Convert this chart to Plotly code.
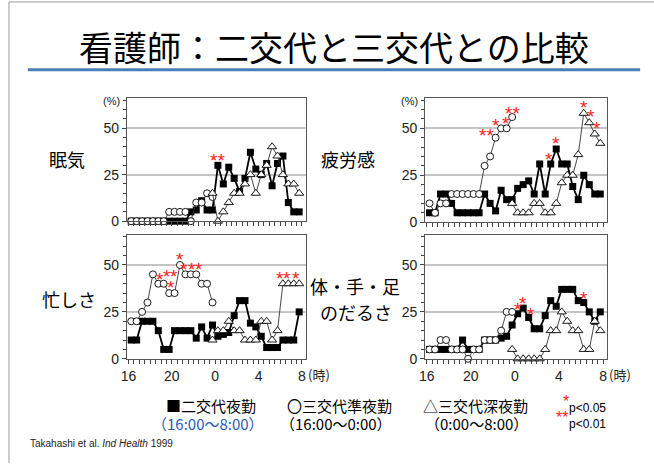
import plotly.graph_objects as go

W, H = 654, 471

# ---------------- data ----------------
TICK_HOURS = [0, 4, 8, 12, 16]
TICK_LABELS = ["16", "20", "0", "4", "8"]
N_SLOTS = 32                      # half-hour slots 16:15 ... 7:45
SLOT_HOURS = [0.25 + 0.5 * k for k in range(N_SLOTS)]
EVENING_START = 0                 # 三交代準夜勤 slots start
NIGHT_START = 15                  # 三交代深夜勤 slots start

# 眠気
sleepy_two = [0, 0, 0, 0, 0, 0, 0, 0, 0, 0, 0, 5, 6, 11, 6, 6,
              30, 20, 29, 23, 16, 23, 37, 28, 25, 31, 19, 31, 35, 10, 5, 5]
sleepy_eve = [0, 0, 0, 0, 0, 0, 0, 5, 5, 5, 5, 0, 10, 10, 15, 13]
sleepy_night = [15, 0, 5, 10, 15, 15, 20, 25, 15, 25, 30, 40, 35, 25, 20, 20, 15]

# 疲労感
fatigue_two = [5, 5, 15, 15, 10, 5, 5, 5, 5, 5, 15, 10, 6, 17, 12, 12,
               18, 20, 22, 15, 31, 15, 31, 39, 31, 31, 19, 12, 25, 20, 15, 15]
fatigue_eve = [10, 5, 10, 10, 15, 15, 15, 15, 15, 15, 30, 35, 45, 50, 50, 56]
fatigue_night = [10, 5, 5, 5, 10, 10, 5, 5, 10, 21, 25, 25, 36, 58, 53, 47, 42]

# 忙しさ
busy_two = [10, 10, 20, 20, 20, 15, 5, 5, 15, 15, 15, 15, 11, 17, 11, 18,
            12, 13, 14, 23, 31, 31, 19, 17, 12, 6, 6, 6, 10, 10, 10, 25]
busy_eve = [20, 20, 25, 30, 45, 40, 40, 35, 35, 50, 45, 45, 45, 40, 40, 30]
busy_night = [10, 15, 15, 20, 15, 15, 10, 10, 10, 20, 20, 10, 15, 40, 40, 40, 40]

# 体・手・足のだるさ
tired_two = [5, 5, 5, 5, 5, 5, 10, 5, 5, 5, 10, 10, 10, 11, 12, 18,
             24, 27, 22, 16, 16, 23, 31, 28, 37, 37, 37, 31, 30, 25, 20, 25]
tired_eve = [5, 5, 10, 10, 5, 5, 5, 0, 5, 5, 10, 10, 10, 15, 25, 25]
tired_night = [5, 0, 0, 0, 0, 0, 5, 15, 15, 25, 20, 15, 15, 5, 5, 20, 15]

PANEL_NAMES = [["眠気"], ["疲労感"], ["忙しさ"], ["体・手・足", "のだるさ"]]

# significance marks: (series, slot, text, dx px, dy px)
sleepy_stars = [("two", 16, "**", 0, -9)]
fatigue_stars = [("eve", 12, "**", -9, -6), ("eve", 13, "*", -5, -7),
                 ("eve", 14, "*", -1, -9), ("eve", 15, "**", 0, -8),
                 ("two", 22, "*", -2, -8), ("two", 23, "*", 0, -9),
                 ("night", 28, "*", 0, -10), ("night", 29, "*", 2, -10),
                 ("night", 30, "*", 2, -9)]
busy_stars = [("eve", 5, "*", 2, -8), ("eve", 6, "*", 3, -11),
              ("eve", 7, "*", 2, -10), ("eve", 8, "*", -1, -21),
              ("eve", 9, "*", 0, -9), ("eve", 10, "*", -1, -9),
              ("eve", 11, "*", 1, -9), ("eve", 12, "*", 3, -9),
              ("night", 28, "*", -3, -9), ("night", 29, "*", -1, -9),
              ("night", 30, "*", 2, -9)]
tired_stars = [("two", 16, "*", 0, -8), ("two", 17, "*", 0, -9),
               ("two", 18, "*", 2, -7), ("two", 28, "*", 0, -8)]

# ---------------- layout helpers ----------------
def px(x):
    return x / W


def py(y):
    return 1 - y / H


FONT = "Liberation Sans, Arial, sans-serif"
JFONT = "Noto Sans CJK JP, sans-serif"
Y_MAX = 66
STAR_SIZE = 19

# plot boxes in page pixels: (left, right, top, bottom at value 0)
BOXES = [(122, 303, 100, 225), (423, 607, 100, 226),
         (122, 303, 239, 365), (423, 607, 239, 365)]

panels = [
    (sleepy_two, sleepy_eve, sleepy_night, sleepy_stars),
    (fatigue_two, fatigue_eve, fatigue_night, fatigue_stars),
    (busy_two, busy_eve, busy_night, busy_stars),
    (tired_two, tired_eve, tired_night, tired_stars),
]

fig = go.Figure()
annotations = []
layout_axes = {}

for p, (two, eve, night, stars) in enumerate(panels):
    sfx = "" if p == 0 else str(p + 1)
    xa, ya = "x" + sfx, "y" + sfx
    x_two = SLOT_HOURS[:len(two)]
    x_eve = SLOT_HOURS[EVENING_START:EVENING_START + len(eve)]
    x_night = SLOT_HOURS[NIGHT_START:NIGHT_START + len(night)]
    fig.add_trace(go.Scatter(
        x=x_two, y=two, xaxis=xa, yaxis=ya, mode="lines+markers",
        line=dict(color="black", width=1.8),
        marker=dict(symbol="square", size=7, color="black"),
        cliponaxis=False, showlegend=False))
    fig.add_trace(go.Scatter(
        x=x_eve, y=eve, xaxis=xa, yaxis=ya, mode="lines+markers",
        line=dict(color="#333333", width=0.9),
        marker=dict(symbol="circle", size=7, color="white",
                    line=dict(color="black", width=0.9)),
        cliponaxis=False, showlegend=False))
    fig.add_trace(go.Scatter(
        x=x_night, y=night, xaxis=xa, yaxis=ya, mode="lines+markers",
        line=dict(color="#333333", width=0.9),
        marker=dict(symbol="triangle-up", size=8, color="white",
                    line=dict(color="black", width=0.9)),
        cliponaxis=False, showlegend=False))

    series = {"two": (x_two, two), "eve": (x_eve, eve), "night": (x_night, night)}
    for name, k, txt, dx, dy in stars:
        xs, ys = series[name]
        if name == "two":
            idx = k
        elif name == "eve":
            idx = k - EVENING_START
        else:
            idx = k - NIGHT_START
        annotations.append(dict(
            x=xs[idx], y=ys[idx], xref=xa, yref=ya, text=txt,
            showarrow=False, xshift=dx, yshift=-dy - 4,
            font=dict(family=FONT, size=STAR_SIZE, color="#ff2020"),
            xanchor="center", yanchor="middle"))

    l, r, t, b = BOXES[p]
    bottom_row = p >= 2
    layout_axes["xaxis" + sfx] = dict(
        domain=[px(l), px(r)], anchor=ya, range=[-0.15, 16.4],
        tickmode="array", tickvals=TICK_HOURS, ticktext=TICK_LABELS,
        showticklabels=bottom_row, ticks="outside", ticklen=4,
        tickcolor="#444", tickwidth=1,
        minor=dict(tickmode="linear", tick0=0, dtick=0.5, ticks="outside",
                   ticklen=4, tickcolor="#444", tickwidth=1),
        showline=True, linecolor="#555", linewidth=1, mirror=True,
        showgrid=False, zeroline=False, fixedrange=True,
        tickfont=dict(family=FONT, size=14, color="#222"))
    layout_axes["yaxis" + sfx] = dict(
        domain=[py(b), py(t)], anchor=xa, range=[0, Y_MAX],
        tickmode="array", tickvals=[0, 25, 50], ticks="outside", ticklen=4,
        tickcolor="#444",
        minor=dict(tickmode="linear", tick0=0, dtick=5, ticks="outside",
                   ticklen=3, tickcolor="#444"),
        showline=True, linecolor="#555", linewidth=1, mirror=True,
        showgrid=True, gridcolor="#c4c4c4", gridwidth=1.5, zeroline=False,
        fixedrange=True,
        tickfont=dict(family=FONT, size=14, color="#222"))

    # (%) and (時) labels
    if not bottom_row:
        annotations.append(dict(x=px(l - 16), y=py(t + 3), xref="paper",
                                yref="paper", text="(%)", showarrow=False,
                                font=dict(family=FONT, size=11, color="#222"),
                                xanchor="center", yanchor="middle"))
    else:
        annotations.append(dict(x=px(r + 13), y=py(b + 16), xref="paper",
                                yref="paper", text="(時)", showarrow=False,
                                font=dict(family=JFONT, size=13, color="#222"),
                                xanchor="center", yanchor="middle"))

# panel names (one annotation per line)
NAME_POS = [[(62, 162)], [(345, 162)], [(64, 304)], [(352, 291), (353, 317)]]
for lines, poss in zip(PANEL_NAMES, NAME_POS):
    for txt, (x, y) in zip(lines, poss):
        annotations.append(dict(x=px(x), y=py(y), xref="paper", yref="paper",
                                text=txt, showarrow=False,
                                font=dict(family=JFONT, size=18, color="black"),
                                xanchor="center", yanchor="middle"))

# title
annotations.append(dict(x=px(331), y=py(47), xref="paper", yref="paper",
                        text="看護師：二交代と三交代との比較", showarrow=False,
                        font=dict(family=JFONT, size=34, color="black"),
                        xanchor="center", yanchor="middle"))

# legend texts
LEG1 = [("■二交代夜勤", 207), ("〇三交代準夜勤", 337), ("△三交代深夜勤", 474)]
LEG2 = [("（16:00〜8:00）", 204, "#2a5cb8"), ("（16:00〜0:00）", 333, "black"),
        ("（0:00〜8:00）", 475, "black")]
for txt, x in LEG1:
    annotations.append(dict(x=px(x), y=py(412), xref="paper", yref="paper",
                            text=txt, showarrow=False,
                            font=dict(family=JFONT, size=15, color="black"),
                            xanchor="center", yanchor="middle"))
for txt, x, c in LEG2:
    annotations.append(dict(x=px(x), y=py(431), xref="paper", yref="paper",
                            text=txt, showarrow=False,
                            font=dict(family=JFONT, size=15, color=c),
                            xanchor="center", yanchor="middle"))
annotations.append(dict(x=px(560), y=py(408), xref="paper", yref="paper",
                        text="*", showarrow=False, xanchor="left", yanchor="middle",
                        font=dict(family=FONT, size=16, color="#ff2020")))
annotations.append(dict(x=px(566), y=py(415), xref="paper", yref="paper",
                        text="p<0.05", showarrow=False, xanchor="left",
                        yanchor="middle",
                        font=dict(family=FONT, size=12, color="black")))
annotations.append(dict(x=px(553), y=py(425), xref="paper", yref="paper",
                        text="**", showarrow=False, xanchor="left", yanchor="middle",
                        font=dict(family=FONT, size=16, color="#ff2020")))
annotations.append(dict(x=px(566), y=py(431), xref="paper", yref="paper",
                        text="p<0.01", showarrow=False, xanchor="left",
                        yanchor="middle",
                        font=dict(family=FONT, size=12, color="black")))
annotations.append(dict(x=px(22), y=py(451), xref="paper", yref="paper",
                        text="Takahashi et al. <i>Ind Health</i> 1999",
                        showarrow=False, xanchor="left", yanchor="middle",
                        font=dict(family=FONT, size=10, color="#222")))

shapes = [
    dict(type="line", xref="paper", yref="paper", x0=px(22), x1=px(640),
         y0=py(71), y1=py(71), line=dict(color="#4a7ebb", width=3)),
    dict(type="line", xref="paper", yref="paper", x0=px(3), x1=px(654),
         y0=py(2), y1=py(2), line=dict(color="#9a9a9a", width=1)),
    dict(type="line", xref="paper", yref="paper", x0=px(3), x1=px(3),
         y0=py(2), y1=py(471), line=dict(color="#9a9a9a", width=1)),
]

fig.update_layout(
    width=W, height=H, margin=dict(l=0, r=0, t=0, b=0),
    paper_bgcolor="white", plot_bgcolor="white",
    annotations=annotations, shapes=shapes, **layout_axes)

fig.write_html("out.html", config={"displayModeBar": False})
